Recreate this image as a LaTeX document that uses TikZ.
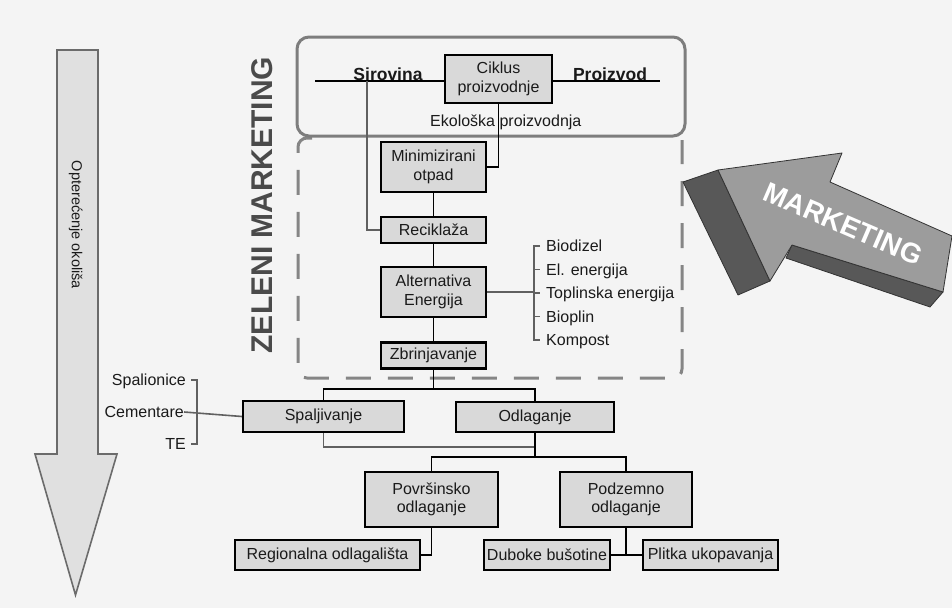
\documentclass[tikz,border=0pt]{standalone}
\usepackage{fontspec}
\setmainfont{Liberation Sans}
\definecolor{bg}{HTML}{F4F4F4}
\definecolor{boxfill}{HTML}{D9D9D9}
\definecolor{ink}{HTML}{1A1A1A}
\definecolor{linegray}{HTML}{606060}
\definecolor{framegray}{HTML}{7D7D7D}
\definecolor{dashgray}{HTML}{858585}
\definecolor{arrowfill}{HTML}{E0E0E0}
\definecolor{arrowline}{HTML}{6B6B6B}
\definecolor{mkfront}{HTML}{9C9C9C}
\definecolor{mkdark}{HTML}{585858}
\definecolor{zel}{HTML}{4A4A4A}
\tikzset{
  lbl/.style={font=\fontsize{16}{18.5}\selectfont, text=ink, inner sep=0pt, text height=11.5pt, text depth=0pt},
  box/.style={draw=black, line width=2.2pt, fill=boxfill, font=\fontsize{16}{18.5}\selectfont, text=ink, align=center, inner sep=0pt},
  endlbl/.style={font=\fontsize{17.5}{20}\selectfont\bfseries, text=ink, inner sep=0pt, text height=12.5pt, text depth=0pt},
  link/.style={line width=1.8pt, draw=black},
  glink/.style={line width=1.6pt, draw=linegray},
  mkface/.style={draw=black!80, line width=0.8pt, line join=round},
}
\begin{document}
\begin{tikzpicture}[x=1pt,y=-1pt]
\useasboundingbox (0,0) rectangle (952,608);
\fill[bg] (0,0) rectangle (952,608);

% environmental load arrow
\filldraw[fill=arrowfill, draw=arrowline, line width=1.6pt, line join=miter]
  (57,50) -- (98,50) -- (98,454) -- (117,454) -- (75.5,595) -- (35,454) -- (57,454) -- cycle;
\node[lbl, font=\fontsize{14.5}{17}\selectfont, rotate=-90] (load) at (77.5,225) {Opterećenje okoliša};

% green marketing area and production frame
\draw[dashgray, line width=3pt, dash pattern=on 25pt off 17pt, rounded corners=9pt]
  (312,138) -- (298,138) -- (298,378) -- (682,378) -- (682,140);
\draw[framegray, line width=3pt, rounded corners=12pt] (297,37) rectangle (685,136);
\node[font=\fontsize{30}{32}\selectfont\bfseries, text=zel, rotate=90, inner sep=0pt] (zm) at (262,205) {ZELENI MARKETING};

% production line
\node[box, minimum width=107pt, minimum height=48pt] (cik) at (498.5,79) {Ciklus\\proizvodnje};
\node[endlbl] (sir) at (388,74) {Sirovina};
\node[endlbl] (pro) at (610,74) {Proizvod};
\coordinate (sL) at (315,81);
\coordinate (pR) at (660,81);
\coordinate (sv) at (367,81);
\draw[link] (sL) -- (sL -| cik.west);
\draw[link] (pR -| cik.east) -- (pR);
\node[lbl, anchor=west] (eko) at (430,121) {Ekološka proizvodnja};

% waste hierarchy
\node[box, minimum width=105pt, minimum height=50pt] (mini) at (433.5,167) {Minimizirani\\otpad};
\node[box, minimum width=105pt, minimum height=26pt] (reci) at (433.5,230) {Reciklaža};
\node[box, minimum width=105pt, minimum height=50pt] (alt) at (433.5,292) {Alternativa\\Energija};
\node[box, minimum width=105pt, minimum height=26pt] (zbr) at (433.5,355.5) {Zbrinjavanje};

\draw[glink] (sv) |- (reci.west);
\draw[link] (cik.south) |- (mini.east);
\draw[link] (mini.south) -- (reci.north);
\draw[link] (reci.south) -- (alt.north);
\draw[link] (alt.south) -- (zbr.north);

% energy outputs
\node[lbl, anchor=west] (bio) at (546,246) {Biodizel};
\node[lbl, anchor=west] (ele) at (546,269.5) {El. energija};
\node[lbl, anchor=west] (top) at (546,293) {Toplinska energija};
\node[lbl, anchor=west] (biop) at (546,316.5) {Bioplin};
\node[lbl, anchor=west] (komp) at (546,340) {Kompost};
\coordinate (eb) at (534,293);
\draw[glink] (alt.east) -- (alt.east -| eb);
\draw[glink] ([xshift=-6pt]bio.west) -- (bio.west -| eb) -- (komp.west -| eb) -- ([xshift=-6pt]komp.west);
\draw[glink] (ele.west -| eb) -- ([xshift=-6pt]ele.west);
\draw[glink] (top.west -| eb) -- ([xshift=-6pt]top.west);
\draw[glink] (biop.west -| eb) -- ([xshift=-6pt]biop.west);

% disposal
\node[box, minimum width=161pt, minimum height=31pt] (spa) at (323.5,416.5) {Spaljivanje};
\node[box, minimum width=158pt, minimum height=30pt] (odl) at (535,417) {Odlaganje};
\coordinate (hub1) at (433.5,389);
\draw[link] (zbr.south) -- (hub1);
\draw[link] (spa.north) |- (hub1) -| (odl.north);
\coordinate (hub2) at (535,457);
\draw[glink] (spa.south) |- (odl.south |- 0,447);
\draw[link] (odl.south) -- (hub2);

\node[lbl, anchor=east] (spal) at (186,380) {Spalionice};
\node[lbl, anchor=east] (cem) at (184,412) {Cementare};
\node[lbl, anchor=east] (te) at (186,444) {TE};
\coordinate (cb) at (197,412);
\draw[glink] ([xshift=5pt]spal.east) -- (spal.east -| cb) -- (te.east -| cb) -- ([xshift=5pt]te.east);
\draw[glink] (cem.east) -- (spa.west);

\node[box, minimum width=133pt, minimum height=55pt] (pov) at (431.5,499.5) {Površinsko\\odlaganje};
\node[box, minimum width=132pt, minimum height=55pt] (pod) at (626,499.5) {Podzemno\\odlaganje};
\draw[link] (pov.north) |- (hub2) -| (pod.north);

\node[box, minimum width=185pt, minimum height=30pt] (reg) at (327.5,555) {Regionalna odlagališta};
\node[box, minimum width=126pt, minimum height=30pt] (dub) at (547,555) {Duboke bušotine};
\node[box, minimum width=135pt, minimum height=30pt] (pli) at (710.5,555) {Plitka ukopavanja};
\draw[link] (pov.south) |- (reg.east);
\draw[link] (pod.south) -- (pod.south |- dub.east);
\draw[link] (dub.east) -- (pli.west);

% marketing arrow
\filldraw[fill=mkdark, mkface] (718,170) -- (683,182) -- (738,295) -- (770,281) -- cycle;
\filldraw[fill=mkdark, mkface] (792,245) -- (943,292) -- (930,307) -- (786,258) -- cycle;
\filldraw[fill=mkfront, mkface] (718,170) -- (842,153) -- (830,182) -- (952,236) -- (943,292) -- (792,245) -- (770,281) -- cycle;
\node[font=\fontsize{28}{28}\selectfont\bfseries, text=white, rotate=-23.3, inner sep=0pt] (mk) at (843,224) {MARKETING};
\end{tikzpicture}
\end{document}
